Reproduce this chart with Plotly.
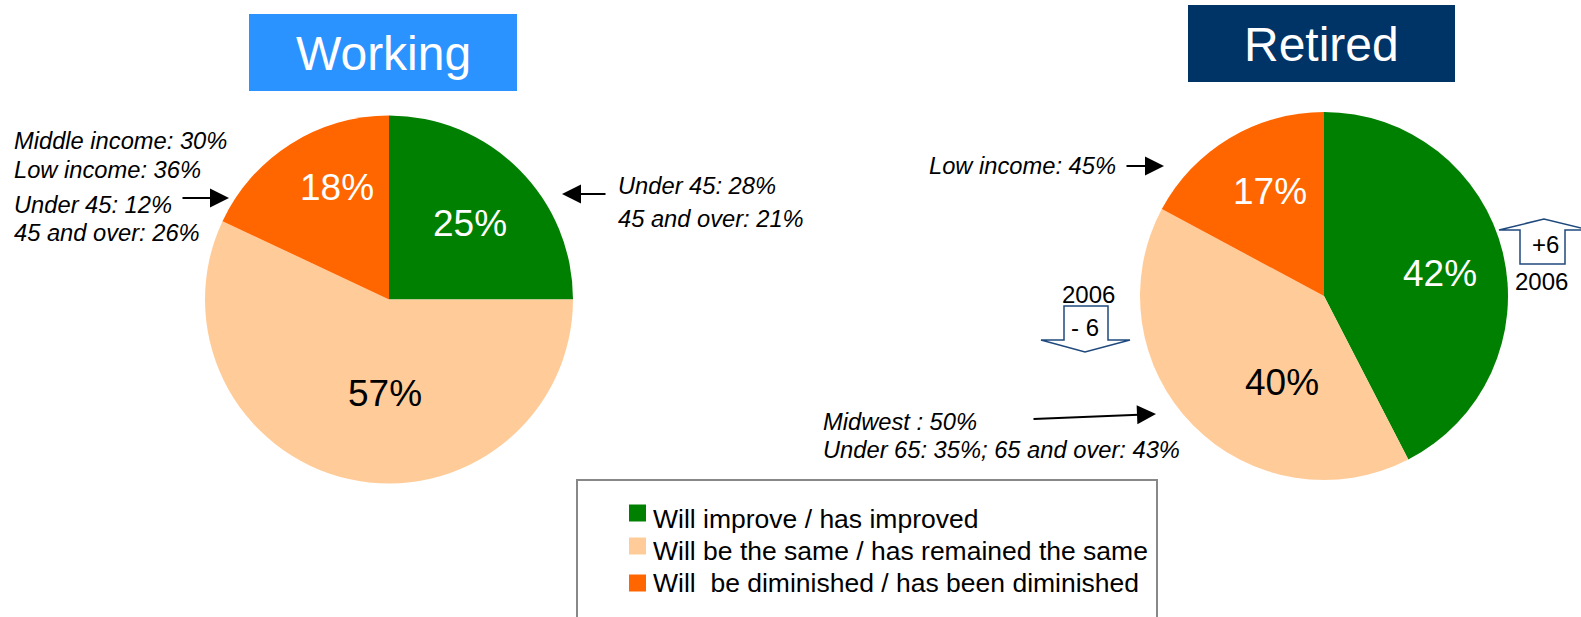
import plotly.graph_objects as go

W, H = 1581, 617

# ---------------- data ----------------
categories = ["Will improve / has improved",
              "Will be the same / has remained the same",
              "Will\u00a0 be diminished / has been diminished"]
working_values = [25, 57, 18]
retired_values = [42, 40, 17]
slice_colors = ["#008000", "#FFCC99", "#FF6600"]
label_colors = ["white", "black", "white"]
panel_titles = ["Working", "Retired"]
working_notes_left = ["Middle income: 30%", "Low income: 36%", "Under 45: 12%", "45 and over: 26%"]
working_notes_right = ["Under 45: 28%", "45 and over: 21%"]
retired_notes_top = ["Low income: 45%"]
retired_notes_bottom = ["Midwest : 50%", "Under 65: 35%; 65 and over: 43%"]
change_labels = ["- 6", "+6"]
change_year = "2006"

FONT = "Liberation Sans, Arial, sans-serif"


def px(x):
    return x / W


def py(y):
    return 1 - y / H


fig = go.Figure()
annotations = []
shapes = []


def add_pie(values, cx, cy, r, label_offsets):
    fig.add_trace(go.Pie(
        labels=categories, values=values, sort=False, direction="clockwise",
        rotation=0,
        marker=dict(colors=slice_colors, line=dict(width=0)),
        textinfo="none",
        domain=dict(x=[px(cx - r), px(cx + r)], y=[py(cy + r), py(cy - r)]),
        showlegend=False, hoverinfo="label+value",
    ))
    # slice value labels (text from the data, placed like the original)
    for v, col, (dx, dy) in zip(values, label_colors, label_offsets):
        annotations.append(dict(text=f"{v}%", xref="paper", yref="paper",
                                x=px(cx + dx), y=py(cy + dy),
                                xanchor="center", yanchor="middle", showarrow=False,
                                font=dict(family=FONT, size=37, color=col)))


add_pie(working_values, 389, 299.5, 184, [(81, -76), (-4, 94), (-52, -112)])
add_pie(retired_values, 1324, 296, 184, [(116, -23), (-42, 86), (-54, -104)])

# title boxes
title_boxes = [((249, 14, 517, 91), "#2B93FF"), ((1188, 5, 1455, 82), "#003366")]
for title, ((x0, y0, x1, y1), col) in zip(panel_titles, title_boxes):
    shapes.append(dict(type="rect", xref="paper", yref="paper",
                       x0=px(x0), x1=px(x1), y0=py(y1), y1=py(y0),
                       fillcolor=col, line=dict(width=0), layer="below"))
    annotations.append(dict(text=title, xref="paper", yref="paper",
                            x=px((x0 + x1) / 2), y=py((y0 + y1) / 2 + 1),
                            xanchor="center", yanchor="middle", showarrow=False,
                            font=dict(family=FONT, size=48, color="white")))


def note(text, x, y):
    annotations.append(dict(text="<i>" + text + "</i>", xref="paper", yref="paper",
                            x=px(x - 2), y=py(y), xanchor="left", yanchor="middle",
                            showarrow=False,
                            font=dict(family=FONT, size=23.7, color="black")))


for t, y in zip(working_notes_left, [141, 170, 205, 233]):
    note(t, 14, y)
for t, y in zip(working_notes_right, [186, 219]):
    note(t, 618, y)
for t, y in zip(retired_notes_top, [166]):
    note(t, 929, y)
for t, y in zip(retired_notes_bottom, [422, 450]):
    note(t, 823, y)


def arrow(tail, tip):
    annotations.append(dict(text="", xref="paper", yref="paper",
                            x=px(tip[0]), y=py(tip[1]),
                            ax=tail[0] - tip[0], ay=tail[1] - tip[1],
                            showarrow=True, arrowhead=2, arrowsize=1.9,
                            arrowwidth=2, arrowcolor="black"))


arrow((181, 198), (229, 198))
arrow((607, 194), (562, 194))
arrow((1125, 166), (1164, 166))
arrow((1032, 419), (1156, 414))


# block arrows (change vs 2006)
def path(points):
    return "M " + " L ".join(f"{px(a):.6f},{py(b):.6f}" for a, b in points) + " Z"


down_pts = [(1064, 306), (1108, 306), (1108, 340), (1130, 340), (1085, 352), (1041, 340), (1064, 340)]
up_pts = [(1520, 264), (1520, 230), (1499, 230), (1544, 219), (1589, 230), (1565, 230), (1565, 264)]
for pts in (down_pts, up_pts):
    shapes.append(dict(type="path", xref="paper", yref="paper", path=path(pts),
                       fillcolor="white", line=dict(color="#1F497D", width=1.5)))

for text, (x, y) in zip(change_labels, [(1085, 327), (1545, 244)]):
    annotations.append(dict(text=text, xref="paper", yref="paper", x=px(x), y=py(y),
                            xanchor="center", yanchor="middle", showarrow=False,
                            font=dict(family=FONT, size=24, color="black")))
for (x, y) in [(1088, 294), (1541, 281)]:
    annotations.append(dict(text=change_year, xref="paper", yref="paper", x=px(x), y=py(y),
                            xanchor="center", yanchor="middle", showarrow=False,
                            font=dict(family=FONT, size=24, color="black")))

# legend box
shapes.append(dict(type="rect", xref="paper", yref="paper",
                   x0=px(577), x1=px(1157), y0=py(650), y1=py(480),
                   fillcolor="rgba(0,0,0,0)", line=dict(color="#888888", width=2)))
square_centers = [513, 546, 583]
text_centers = [519, 551, 583]
for cat, col, sc, tc in zip(categories, slice_colors, square_centers, text_centers):
    shapes.append(dict(type="rect", xref="paper", yref="paper",
                       x0=px(629), x1=px(646), y0=py(sc + 8.5), y1=py(sc - 8.5),
                       fillcolor=col, line=dict(width=0)))
    annotations.append(dict(text=cat, xref="paper", yref="paper",
                            x=px(651), y=py(tc), xanchor="left", yanchor="middle",
                            showarrow=False,
                            font=dict(family=FONT, size=26.5, color="black")))

fig.update_layout(
    width=W, height=H, margin=dict(l=0, r=0, t=0, b=0),
    paper_bgcolor="white", plot_bgcolor="white", showlegend=False,
    font=dict(family=FONT),
    shapes=shapes, annotations=annotations,
)

fig.write_html(
    "out.html",
    config={"displayModeBar": False},
    post_script="document.body.style.margin='0';document.body.style.overflow='hidden';",
)
